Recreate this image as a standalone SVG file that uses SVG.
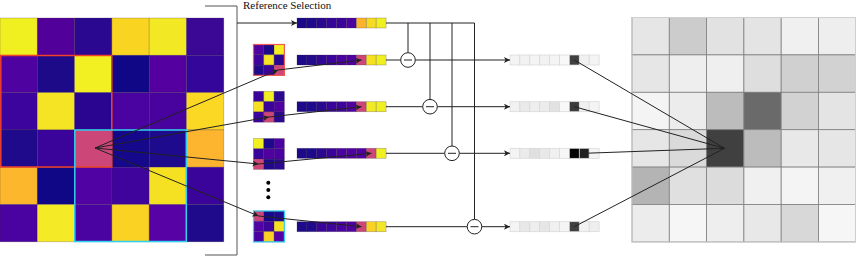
<svg xmlns="http://www.w3.org/2000/svg" width="856" height="256" viewBox="0 0 856 256">
<style>
.c{stroke:#3a2a40;stroke-opacity:0.35;stroke-width:0.7}
.g{stroke:#808080;stroke-width:0.8}
.ob rect{stroke:#d8d8d8;stroke-width:0.7}
.ln{stroke:#222;stroke-width:1;fill:none}
.ar{stroke:#222;stroke-width:1;fill:none;marker-end:url(#ah)}
.op{fill:#fff;stroke:#222;stroke-width:1}
.lbl{font-family:"Liberation Serif","Times New Roman",serif;font-size:11px;fill:#111}
</style>
<defs>
<marker id="ah" markerUnits="userSpaceOnUse" markerWidth="7" markerHeight="7" refX="6" refY="3" orient="auto">
<path d="M0,0 L6,3 L0,6 L1.5,3 z" fill="#222"/>
</marker>
</defs>

<g id="input-grid">
<g class="c">
<rect x="0" y="18" width="37.3" height="37.3" fill="#f0f020"/>
<rect x="37.3" y="18" width="37.3" height="37.3" fill="#52009a"/>
<rect x="74.6" y="18" width="37.3" height="37.3" fill="#2a0890"/>
<rect x="111.9" y="18" width="37.3" height="37.3" fill="#f9d522"/>
<rect x="149.2" y="18" width="37.3" height="37.3" fill="#f3e824"/>
<rect x="186.5" y="18" width="37.3" height="37.3" fill="#3a0894"/>
<rect x="0" y="55.3" width="37.3" height="37.3" fill="#4e02a0"/>
<rect x="37.3" y="55.3" width="37.3" height="37.3" fill="#1c0a88"/>
<rect x="74.6" y="55.3" width="37.3" height="37.3" fill="#f2f022"/>
<rect x="111.9" y="55.3" width="37.3" height="37.3" fill="#100786"/>
<rect x="149.2" y="55.3" width="37.3" height="37.3" fill="#5400a0"/>
<rect x="186.5" y="55.3" width="37.3" height="37.3" fill="#34069a"/>
<rect x="0" y="92.6" width="37.3" height="37.3" fill="#3c049c"/>
<rect x="37.3" y="92.6" width="37.3" height="37.3" fill="#f4e424"/>
<rect x="74.6" y="92.6" width="37.3" height="37.3" fill="#2a0690"/>
<rect x="111.9" y="92.6" width="37.3" height="37.3" fill="#4a02a0"/>
<rect x="149.2" y="92.6" width="37.3" height="37.3" fill="#48029e"/>
<rect x="186.5" y="92.6" width="37.3" height="37.3" fill="#fad824"/>
<rect x="0" y="129.9" width="37.3" height="37.3" fill="#1e0a8a"/>
<rect x="37.3" y="129.9" width="37.3" height="37.3" fill="#3a049a"/>
<rect x="74.6" y="129.9" width="37.3" height="37.3" fill="#cc4778"/>
<rect x="111.9" y="129.9" width="37.3" height="37.3" fill="#15088a"/>
<rect x="149.2" y="129.9" width="37.3" height="37.3" fill="#1e0a8c"/>
<rect x="186.5" y="129.9" width="37.3" height="37.3" fill="#fdb42f"/>
<rect x="0" y="167.2" width="37.3" height="37.3" fill="#fdb72c"/>
<rect x="37.3" y="167.2" width="37.3" height="37.3" fill="#0f0785"/>
<rect x="74.6" y="167.2" width="37.3" height="37.3" fill="#5002a2"/>
<rect x="111.9" y="167.2" width="37.3" height="37.3" fill="#3e049c"/>
<rect x="149.2" y="167.2" width="37.3" height="37.3" fill="#f6e022"/>
<rect x="186.5" y="167.2" width="37.3" height="37.3" fill="#3a049a"/>
<rect x="0" y="204.5" width="37.3" height="37.3" fill="#4a02a0"/>
<rect x="37.3" y="204.5" width="37.3" height="37.3" fill="#f4ea26"/>
<rect x="74.6" y="204.5" width="37.3" height="37.3" fill="#4a02a0"/>
<rect x="111.9" y="204.5" width="37.3" height="37.3" fill="#fad224"/>
<rect x="149.2" y="204.5" width="37.3" height="37.3" fill="#5602a4"/>
<rect x="186.5" y="204.5" width="37.3" height="37.3" fill="#200a8c"/>
</g>
<rect x="0.8" y="55.5" width="111" height="111.5" fill="none" stroke="#f0402a" stroke-width="1.5"/>
<rect x="74.8" y="130" width="111.5" height="111.5" fill="none" stroke="#30d0f0" stroke-width="1.5"/>
</g>

<g id="bracket">
<path d="M205,6 H237 V255 H205" fill="none" stroke="#555" stroke-width="1"/>
<text class="lbl" x="243" y="8.5">Reference Selection</text>
</g>

<g id="patch-1" class="c">
<rect x="253.5" y="44.5" width="10.3" height="10.3" fill="#4e02a0"/>
<rect x="263.8" y="44.5" width="10.3" height="10.3" fill="#1c0a88"/>
<rect x="274.1" y="44.5" width="10.3" height="10.3" fill="#f2f022"/>
<rect x="253.5" y="54.8" width="10.3" height="10.3" fill="#3c049c"/>
<rect x="263.8" y="54.8" width="10.3" height="10.3" fill="#f4e424"/>
<rect x="274.1" y="54.8" width="10.3" height="10.3" fill="#2a0690"/>
<rect x="253.5" y="65.1" width="10.3" height="10.3" fill="#1e0a8a"/>
<rect x="263.8" y="65.1" width="10.3" height="10.3" fill="#3a049a"/>
<rect x="274.1" y="65.1" width="10.3" height="10.3" fill="#cc4778"/>
<rect x="253.5" y="44.5" width="30.9" height="30.9" fill="none" stroke="#f05a50" stroke-width="1.2" stroke-opacity="1"/>
</g>
<g id="patch-2" class="c">
<rect x="253.5" y="91.3" width="10.3" height="10.3" fill="#3a049a"/>
<rect x="263.8" y="91.3" width="10.3" height="10.3" fill="#f2f022"/>
<rect x="274.1" y="91.3" width="10.3" height="10.3" fill="#2a0890"/>
<rect x="253.5" y="101.6" width="10.3" height="10.3" fill="#f6e024"/>
<rect x="263.8" y="101.6" width="10.3" height="10.3" fill="#3a049a"/>
<rect x="274.1" y="101.6" width="10.3" height="10.3" fill="#5002a0"/>
<rect x="253.5" y="111.9" width="10.3" height="10.3" fill="#3a049a"/>
<rect x="263.8" y="111.9" width="10.3" height="10.3" fill="#cc4778"/>
<rect x="274.1" y="111.9" width="10.3" height="10.3" fill="#2a0890"/>
</g>
<g id="patch-3" class="c">
<rect x="253.5" y="138.5" width="10.3" height="10.3" fill="#f2f022"/>
<rect x="263.8" y="138.5" width="10.3" height="10.3" fill="#1c0a8a"/>
<rect x="274.1" y="138.5" width="10.3" height="10.3" fill="#4a02a0"/>
<rect x="253.5" y="148.8" width="10.3" height="10.3" fill="#3a049a"/>
<rect x="263.8" y="148.8" width="10.3" height="10.3" fill="#5002a0"/>
<rect x="274.1" y="148.8" width="10.3" height="10.3" fill="#4a02a0"/>
<rect x="253.5" y="159.1" width="10.3" height="10.3" fill="#cc4778"/>
<rect x="263.8" y="159.1" width="10.3" height="10.3" fill="#1c0a8a"/>
<rect x="274.1" y="159.1" width="10.3" height="10.3" fill="#2a0890"/>
</g>
<g id="ellipsis">
<circle cx="268.3" cy="182.7" r="2" fill="#000"/>
<circle cx="268.3" cy="190" r="2" fill="#000"/>
<circle cx="268.3" cy="197.3" r="2" fill="#000"/>
</g>
<g id="patch-4" class="c">
<rect x="253.5" y="211" width="10.3" height="10.3" fill="#cc4778"/>
<rect x="263.8" y="211" width="10.3" height="10.3" fill="#15088a"/>
<rect x="274.1" y="211" width="10.3" height="10.3" fill="#1e0a8c"/>
<rect x="253.5" y="221.3" width="10.3" height="10.3" fill="#5002a2"/>
<rect x="263.8" y="221.3" width="10.3" height="10.3" fill="#3e049c"/>
<rect x="274.1" y="221.3" width="10.3" height="10.3" fill="#f6e022"/>
<rect x="253.5" y="231.6" width="10.3" height="10.3" fill="#4a02a0"/>
<rect x="263.8" y="231.6" width="10.3" height="10.3" fill="#fad224"/>
<rect x="274.1" y="231.6" width="10.3" height="10.3" fill="#5602a4"/>
<rect x="253.5" y="211" width="30.9" height="30.9" fill="none" stroke="#30d0f0" stroke-width="1.2" stroke-opacity="1"/>
</g>

<g id="ref-bar" class="c">
<rect x="297" y="18" width="9.9" height="10" fill="#1a0a8a"/>
<rect x="306.9" y="18" width="9.9" height="10" fill="#200a8c"/>
<rect x="316.8" y="18" width="9.9" height="10" fill="#2a0890"/>
<rect x="326.7" y="18" width="9.9" height="10" fill="#34069a"/>
<rect x="336.6" y="18" width="9.9" height="10" fill="#3a049a"/>
<rect x="346.5" y="18" width="9.9" height="10" fill="#4a02a0"/>
<rect x="356.4" y="18" width="9.9" height="10" fill="#fbb42c"/>
<rect x="366.3" y="18" width="9.9" height="10" fill="#f6da24"/>
<rect x="376.2" y="18" width="9.9" height="10" fill="#f0f020"/>
</g>
<g id="bar-1" class="c">
<rect x="297" y="55" width="9.9" height="10" fill="#1c0a8a"/>
<rect x="306.9" y="55" width="9.9" height="10" fill="#240a8c"/>
<rect x="316.8" y="55" width="9.9" height="10" fill="#300894"/>
<rect x="326.7" y="55" width="9.9" height="10" fill="#3c049c"/>
<rect x="336.6" y="55" width="9.9" height="10" fill="#4a02a0"/>
<rect x="346.5" y="55" width="9.9" height="10" fill="#5002a0"/>
<rect x="356.4" y="55" width="9.9" height="10" fill="#cc4778"/>
<rect x="366.3" y="55" width="9.9" height="10" fill="#f6e022"/>
<rect x="376.2" y="55" width="9.9" height="10" fill="#f0f020"/>
</g>
<g id="bar-2" class="c">
<rect x="297" y="101.7" width="9.9" height="10" fill="#1c0a8a"/>
<rect x="306.9" y="101.7" width="9.9" height="10" fill="#1e0a8c"/>
<rect x="316.8" y="101.7" width="9.9" height="10" fill="#2a0890"/>
<rect x="326.7" y="101.7" width="9.9" height="10" fill="#3a049a"/>
<rect x="336.6" y="101.7" width="9.9" height="10" fill="#3c049c"/>
<rect x="346.5" y="101.7" width="9.9" height="10" fill="#5002a0"/>
<rect x="356.4" y="101.7" width="9.9" height="10" fill="#cc4778"/>
<rect x="366.3" y="101.7" width="9.9" height="10" fill="#f2ea24"/>
<rect x="376.2" y="101.7" width="9.9" height="10" fill="#f0f020"/>
</g>
<g id="bar-3" class="c">
<rect x="297" y="148.3" width="9.9" height="10" fill="#1c0a8a"/>
<rect x="306.9" y="148.3" width="9.9" height="10" fill="#1c0a8a"/>
<rect x="316.8" y="148.3" width="9.9" height="10" fill="#2a0890"/>
<rect x="326.7" y="148.3" width="9.9" height="10" fill="#3a049a"/>
<rect x="336.6" y="148.3" width="9.9" height="10" fill="#4a02a0"/>
<rect x="346.5" y="148.3" width="9.9" height="10" fill="#5002a0"/>
<rect x="356.4" y="148.3" width="9.9" height="10" fill="#5002a0"/>
<rect x="366.3" y="148.3" width="9.9" height="10" fill="#cc4778"/>
<rect x="376.2" y="148.3" width="9.9" height="10" fill="#f0f020"/>
</g>
<g id="bar-4" class="c">
<rect x="297" y="221.7" width="9.9" height="10" fill="#1c0a8a"/>
<rect x="306.9" y="221.7" width="9.9" height="10" fill="#200a8c"/>
<rect x="316.8" y="221.7" width="9.9" height="10" fill="#3a049a"/>
<rect x="326.7" y="221.7" width="9.9" height="10" fill="#3e049c"/>
<rect x="336.6" y="221.7" width="9.9" height="10" fill="#4a02a0"/>
<rect x="346.5" y="221.7" width="9.9" height="10" fill="#5002a0"/>
<rect x="356.4" y="221.7" width="9.9" height="10" fill="#cc4778"/>
<rect x="366.3" y="221.7" width="9.9" height="10" fill="#fad224"/>
<rect x="376.2" y="221.7" width="9.9" height="10" fill="#f2e626"/>
</g>

<g id="out-bar-1" class="ob">
<rect x="510" y="55" width="9.9" height="10" fill="#f4f4f4"/>
<rect x="519.9" y="55" width="9.9" height="10" fill="#f2f2f2"/>
<rect x="529.8" y="55" width="9.9" height="10" fill="#f4f4f4"/>
<rect x="539.7" y="55" width="9.9" height="10" fill="#f2f2f2"/>
<rect x="549.6" y="55" width="9.9" height="10" fill="#f4f4f4"/>
<rect x="559.5" y="55" width="9.9" height="10" fill="#f8f8f8"/>
<rect x="569.4" y="55" width="9.9" height="10" fill="#404040"/>
<rect x="579.3" y="55" width="9.9" height="10" fill="#f0f0f0"/>
<rect x="589.2" y="55" width="9.9" height="10" fill="#f4f4f4"/>
</g>
<g id="out-bar-2" class="ob">
<rect x="510" y="101.7" width="9.9" height="10" fill="#f2f2f2"/>
<rect x="519.9" y="101.7" width="9.9" height="10" fill="#eaeaea"/>
<rect x="529.8" y="101.7" width="9.9" height="10" fill="#eeeeee"/>
<rect x="539.7" y="101.7" width="9.9" height="10" fill="#ececec"/>
<rect x="549.6" y="101.7" width="9.9" height="10" fill="#e2e2e2"/>
<rect x="559.5" y="101.7" width="9.9" height="10" fill="#f8f8f8"/>
<rect x="569.4" y="101.7" width="9.9" height="10" fill="#3c3c3c"/>
<rect x="579.3" y="101.7" width="9.9" height="10" fill="#efefef"/>
<rect x="589.2" y="101.7" width="9.9" height="10" fill="#f4f4f4"/>
</g>
<g id="out-bar-3" class="ob">
<rect x="510" y="148.3" width="9.9" height="10" fill="#f4f4f4"/>
<rect x="519.9" y="148.3" width="9.9" height="10" fill="#ebebeb"/>
<rect x="529.8" y="148.3" width="9.9" height="10" fill="#e0e0e0"/>
<rect x="539.7" y="148.3" width="9.9" height="10" fill="#e8e8e8"/>
<rect x="549.6" y="148.3" width="9.9" height="10" fill="#f0f0f0"/>
<rect x="559.5" y="148.3" width="9.9" height="10" fill="#f6f6f6"/>
<rect x="569.4" y="148.3" width="9.9" height="10" fill="#050505"/>
<rect x="579.3" y="148.3" width="9.9" height="10" fill="#202020"/>
<rect x="589.2" y="148.3" width="9.9" height="10" fill="#f4f4f4"/>
</g>
<g id="out-bar-4" class="ob">
<rect x="510" y="221.7" width="9.9" height="10" fill="#f4f4f4"/>
<rect x="519.9" y="221.7" width="9.9" height="10" fill="#e8e8e8"/>
<rect x="529.8" y="221.7" width="9.9" height="10" fill="#eeeeee"/>
<rect x="539.7" y="221.7" width="9.9" height="10" fill="#e6e6e6"/>
<rect x="549.6" y="221.7" width="9.9" height="10" fill="#f0f0f0"/>
<rect x="559.5" y="221.7" width="9.9" height="10" fill="#f4f4f4"/>
<rect x="569.4" y="221.7" width="9.9" height="10" fill="#404040"/>
<rect x="579.3" y="221.7" width="9.9" height="10" fill="#f2f2f2"/>
<rect x="589.2" y="221.7" width="9.9" height="10" fill="#eeeeee"/>
</g>

<g id="output-grid">
<g class="g">
<rect x="632" y="17.5" width="37.3" height="37.4" fill="#e6e6e6"/>
<rect x="669.3" y="17.5" width="37.3" height="37.4" fill="#cccccc"/>
<rect x="706.6" y="17.5" width="37.3" height="37.4" fill="#e2e2e2"/>
<rect x="743.9" y="17.5" width="37.3" height="37.4" fill="#e4e4e4"/>
<rect x="781.2" y="17.5" width="37.3" height="37.4" fill="#f0f0f0"/>
<rect x="818.5" y="17.5" width="37.3" height="37.4" fill="#eeeeee"/>
<rect x="632" y="54.9" width="37.3" height="37.4" fill="#e6e6e6"/>
<rect x="669.3" y="54.9" width="37.3" height="37.4" fill="#eeeeee"/>
<rect x="706.6" y="54.9" width="37.3" height="37.4" fill="#efefef"/>
<rect x="743.9" y="54.9" width="37.3" height="37.4" fill="#dedede"/>
<rect x="781.2" y="54.9" width="37.3" height="37.4" fill="#d0d0d0"/>
<rect x="818.5" y="54.9" width="37.3" height="37.4" fill="#d2d2d2"/>
<rect x="632" y="92.3" width="37.3" height="37.4" fill="#f4f4f4"/>
<rect x="669.3" y="92.3" width="37.3" height="37.4" fill="#ececec"/>
<rect x="706.6" y="92.3" width="37.3" height="37.4" fill="#bcbcbc"/>
<rect x="743.9" y="92.3" width="37.3" height="37.4" fill="#6a6a6a"/>
<rect x="781.2" y="92.3" width="37.3" height="37.4" fill="#d2d2d2"/>
<rect x="818.5" y="92.3" width="37.3" height="37.4" fill="#e4e4e4"/>
<rect x="632" y="129.7" width="37.3" height="37.4" fill="#e6e6e6"/>
<rect x="669.3" y="129.7" width="37.3" height="37.4" fill="#dadada"/>
<rect x="706.6" y="129.7" width="37.3" height="37.4" fill="#404040"/>
<rect x="743.9" y="129.7" width="37.3" height="37.4" fill="#bcbcbc"/>
<rect x="781.2" y="129.7" width="37.3" height="37.4" fill="#e8e8e8"/>
<rect x="818.5" y="129.7" width="37.3" height="37.4" fill="#e6e6e6"/>
<rect x="632" y="167.1" width="37.3" height="37.4" fill="#b4b4b4"/>
<rect x="669.3" y="167.1" width="37.3" height="37.4" fill="#e0e0e0"/>
<rect x="706.6" y="167.1" width="37.3" height="37.4" fill="#dcdcdc"/>
<rect x="743.9" y="167.1" width="37.3" height="37.4" fill="#f0f0f0"/>
<rect x="781.2" y="167.1" width="37.3" height="37.4" fill="#f4f4f4"/>
<rect x="818.5" y="167.1" width="37.3" height="37.4" fill="#f0f0f0"/>
<rect x="632" y="204.5" width="37.3" height="37.4" fill="#ececec"/>
<rect x="669.3" y="204.5" width="37.3" height="37.4" fill="#f6f6f6"/>
<rect x="706.6" y="204.5" width="37.3" height="37.4" fill="#eeeeee"/>
<rect x="743.9" y="204.5" width="37.3" height="37.4" fill="#e8e8e8"/>
<rect x="781.2" y="204.5" width="37.3" height="37.4" fill="#d8d8d8"/>
<rect x="818.5" y="204.5" width="37.3" height="37.4" fill="#f6f6f6"/>
</g>
<rect x="632" y="17.5" width="223.5" height="224.4" fill="none" stroke="#cfcfcf" stroke-width="1"/>
</g>

<g id="connectors">
<path class="ar" d="M95,148 L278,70"/>
<path class="ar" d="M95,148 L269,117"/>
<path class="ar" d="M95,148 L258.5,164"/>
<path class="ar" d="M95,148 L258.5,216"/>
<path class="ar" d="M278,70 L361.5,60"/>
<path class="ar" d="M269,117 L361.5,106.7"/>
<path class="ar" d="M258.5,164 L371.5,153.3"/>
<path class="ar" d="M258.5,216 L361.5,226.7"/>
<path class="ar" d="M237,23 L297,23"/>
<path class="ln" d="M386,23 H474.5"/>
<path class="ln" d="M408,23 V52.7"/>
<path class="ln" d="M430,23 V99.4"/>
<path class="ln" d="M452,23 V146"/>
<path class="ln" d="M474.5,23 V219.4"/>
<path class="ln" d="M386,60 H400.7"/>
<path class="ln" d="M386,106.7 H422.7"/>
<path class="ln" d="M386,153.3 H444.7"/>
<path class="ln" d="M386,226.7 H467.2"/>
<path class="ar" d="M415.3,60 H510"/>
<path class="ar" d="M437.3,106.7 H510"/>
<path class="ar" d="M459.3,153.3 H510"/>
<path class="ar" d="M481.8,226.7 H510"/>
<path class="ln" d="M574.3,60 L724.5,148.3"/>
<path class="ln" d="M574.3,106.7 L724.5,148.3"/>
<path class="ln" d="M584,153.3 L724.5,148.3"/>
<path class="ln" d="M574.3,226.7 L724.5,148.3"/>
</g>

<g id="op-1"><circle class="op" cx="408" cy="60" r="7.3"/><path class="ln" d="M404,60 H412"/></g>
<g id="op-2"><circle class="op" cx="430" cy="106.7" r="7.3"/><path class="ln" d="M426,106.7 H434"/></g>
<g id="op-3"><circle class="op" cx="452" cy="153.3" r="7.3"/><path class="ln" d="M448,153.3 H456"/></g>
<g id="op-4"><circle class="op" cx="474.5" cy="226.7" r="7.3"/><path class="ln" d="M470.5,226.7 H478.5"/></g>
</svg>
